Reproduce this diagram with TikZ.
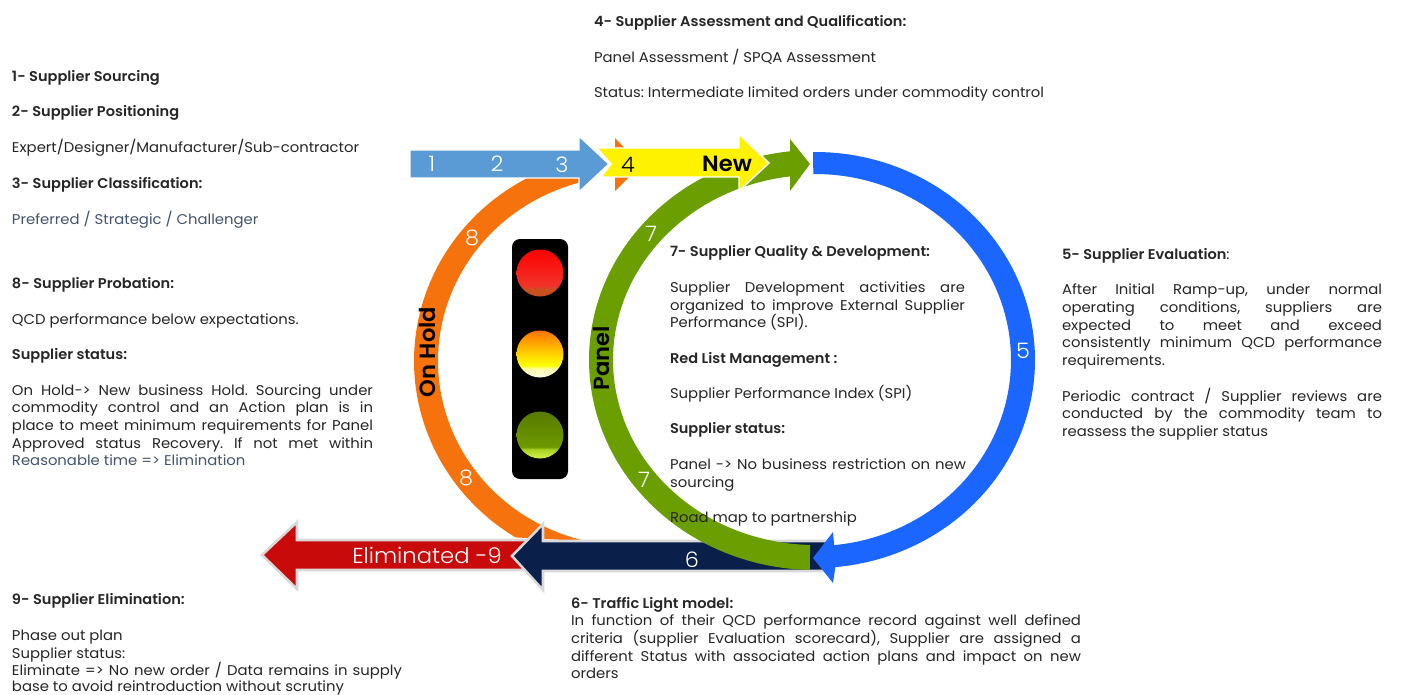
\documentclass[tikz,border=0pt]{standalone}
\usepackage{fontspec}
\setmainfont{Poppins}[FakeStretch=1.05,BoldFont={Poppins SemiBold},BoldFeatures={FakeStretch=1.03}]
\newfontfamily\lightf{Poppins Light}[FakeStretch=1.05]
\frenchspacing
\usetikzlibrary{calc}
\definecolor{txt}{HTML}{262626}
\definecolor{slate}{HTML}{44546A}
\definecolor{bluea}{HTML}{5B9BD5}
\definecolor{orangea}{HTML}{F6720C}
\definecolor{greena}{HTML}{6B9E00}
\definecolor{bluer}{HTML}{1A66FF}
\definecolor{navya}{HTML}{0B1F4B}
\definecolor{reda}{HTML}{C80A0A}
\definecolor{greyline}{HTML}{D9D9D9}
\definecolor{lgA}{HTML}{D2F24A}
\definecolor{lgB}{HTML}{A8D020}
\definecolor{lgC}{HTML}{6E9A00}
\definecolor{lgD}{HTML}{587A00}
\definecolor{lrA}{HTML}{C8501E}
\definecolor{lrB}{HTML}{F0342A}
\pgfdeclareverticalshading{lampred}{100bp}{color(0bp)=(lrA);color(25bp)=(lrA);color(33bp)=(lrA);color(36bp)=(lrB);color(75bp)=(red);color(100bp)=(red)}
\pgfdeclareverticalshading{lampamber}{100bp}{color(0bp)=(white);color(25bp)=(yellow!10!white);color(34bp)=(yellow!30!white);color(38bp)=(yellow);color(75bp)=(orange!90!red);color(100bp)=(orange!90!red)}
\pgfdeclareverticalshading{lampgreen}{100bp}{color(0bp)=(lgA);color(25bp)=(lgA);color(35bp)=(lgB);color(37bp)=(lgC);color(75bp)=(lgD);color(100bp)=(lgD)}
\newcommand{\tl}[4]{\node[lbl] (#1) at (#2,#3) {#4};}
\newcommand{\jl}[5]{\node[lbl] (#1) at (#2,#3) {\makebox[\dimexpr #4pt*3/4\relax][s]{#5}};}
\tikzset{
 x=0.75pt,y=-0.75pt,
 lbl/.style={anchor=base west,inner sep=0pt,outer sep=0pt,text=txt,font=\fontsize{10.6pt}{12pt}\selectfont},
 num/.style={anchor=center,inner sep=0pt,text=white,font=\lightf\fontsize{16pt}{18pt}\selectfont},
 lab/.style={anchor=center,inner sep=0pt,text=black,font=\fontsize{16.5pt}{18pt}\selectfont\bfseries},
 band/.style={fill=#1,draw=none},
 arrowbox/.style={fill=#1,draw=white,line width=1.1pt,line join=miter},
 greyarrow/.style={fill=#1,draw=greyline,line width=1.9pt,line join=miter}
}
\begin{document}
\begin{tikzpicture}
\useasboundingbox (0,0) rectangle (1401,695);
\fill[white] (0,0) rectangle (1401,695);
% orange ring with hidden head
\fill[band=orangea] (615,138) -- (641,165) -- (615,191) -- cycle;
\fill[band=orangea] plot[domain=122:259,samples=90] ({630+216*cos(\x)},{361+208*sin(\x)}) -- plot[domain=258:103,samples=90] ({630+192*cos(\x)},{361+185*sin(\x)}) -- cycle;
% light blue arrow
\draw[arrowbox=bluea] (410,150) -- (579,150) -- (579,136) -- (609,164) -- (579,192) -- (579,178) -- (410,178) -- cycle;
% eliminated arrow
\draw[greyarrow=reda] (543,540) -- (297,540) -- (297,522) -- (262,555) -- (297,589) -- (297,570) -- (543,570) -- cycle;
% navy arrow
\draw[greyarrow=navya] (832,541) -- (543,541) -- (543,524) -- (512,556) -- (543,590) -- (543,571) -- (832,571) -- cycle;
% green arrow
\fill[band=greena] plot[domain=91.3:263.65,samples=120] ({815+226*cos(\x)},{360+210*sin(\x)}) -- (790,139) -- (810,164) -- (790,191) -- plot[domain=262.9:91.4,samples=120] ({815+202*cos(\x)},{360+185*sin(\x)}) -- cycle;
% yellow arrow
\draw[arrowbox=yellow] (597,148) -- (739,148) -- (739,134) -- (769,163) -- (739,191) -- (739,177) -- (601,177) -- (611,164) -- cycle;
% blue ring
\fill[band=bluer] plot[domain=269.5:444.7,samples=120] ({815+220*cos(\x)},{360+208*sin(\x)}) -- (833,583) -- (813,558) -- (833,532) -- plot[domain=444.4:269.5,samples=120] ({815+196*cos(\x)},{360+186*sin(\x)}) -- cycle;
% traffic light
\fill[black,rounded corners=6pt] (512,239) rectangle (568,479);
\shade[shading=lampred] (540,273) circle[radius=23.5];
\shade[shading=lampamber] (540,354) circle[radius=23.5];
\shade[shading=lampgreen] (540,435) circle[radius=23.5];
% labels on arrows
\node[num] (n1) at (432,164) {1};
\node[num] (n2) at (497,164) {2};
\node[num] (n3) at (562,165) {3};
\node[num,text=black] (n4) at (628,165) {4};
\node[lab] (nnew) at (727,164) {New};
\node[num] (n8a) at (472,238) {8};
\node[num] (n8b) at (466,478) {8};
\node[num] (n7a) at (651,234) {7};
\node[num] (n7b) at (644,480) {7};
\node[num] (n5) at (1023,351) {5};
\node[num] (n6) at (692,560) {6};
\node[num,font=\lightf\fontsize{16.2pt}{18pt}\selectfont] (nelim) at (427,555) {Eliminated -9};
\node[lab,rotate=90] (nhold) at (427,352) {On Hold};
\node[lab,rotate=90] (npanel) at (601,358) {Panel};
% block 4
\tl{a1}{594}{27}{\bfseries 4- Supplier Assessment and Qualification:}
\tl{a2}{594}{63}{Panel Assessment / SPQA Assessment}
\tl{a3}{594}{98}{Status: Intermediate limited orders under commodity control}
% block 1-3
\tl{b1}{12}{82}{\bfseries 1- Supplier Sourcing}
\tl{b2}{12}{117}{\bfseries 2- Supplier Positioning}
\tl{b3}{12}{153}{Expert/Designer/Manufacturer/Sub-contractor}
\tl{b4}{12}{189}{\bfseries 3- Supplier Classification:}
\node[lbl,text=slate] (b5) at (12,224) {Preferred / Strategic / Challenger};
% block 8
\tl{c1}{12}{288}{\bfseries 8- Supplier Probation:}
\tl{c2}{12}{324}{QCD performance below expectations.}
\tl{c3}{12}{359}{\bfseries Supplier status:}
\jl{c4}{12}{395}{361}{On Hold-> New business Hold. Sourcing under}
\jl{c5}{12}{412}{361}{commodity control and an Action plan is in}
\jl{c6}{12}{430}{361}{place to meet minimum requirements for Panel}
\jl{c7}{12}{448}{361}{Approved status Recovery. If not met within}
\node[lbl,text=slate] (c8) at (12,465) {Reasonable time => Elimination};
% block 9
\tl{d1}{12}{604}{\bfseries 9- Supplier Elimination:}
\tl{d2}{12}{640}{Phase out plan}
\tl{d3}{12}{658}{Supplier status:}
\jl{d4}{12}{675}{390}{Eliminate => No new order / Data remains in supply}
\tl{d5}{12}{691}{base to avoid reintroduction without scrutiny}
% block 6
\tl{e1}{571}{608}{\bfseries 6- Traffic Light model:}
\jl{e2}{571}{625}{510}{In function of their QCD performance record against well defined}
\jl{e3}{571}{643}{510}{criteria (supplier Evaluation scorecard), Supplier are assigned a}
\jl{e4}{571}{661}{510}{different Status with associated action plans and impact on new}
\tl{e5}{571}{678}{orders}
% block 7
\tl{f1}{670}{256}{\bfseries 7- Supplier Quality \& Development:}
\jl{f2}{670}{292}{295}{Supplier Development activities are}
\jl{f3}{670}{310}{295}{organized to improve External Supplier}
\tl{f4}{670}{327}{Performance (SPI).}
\tl{f5}{670}{363}{\bfseries Red List Management :}
\tl{f6}{670}{398}{Supplier Performance Index (SPI)}
\tl{f7}{670}{433}{\bfseries Supplier status:}
\jl{f8}{670}{469}{296}{Panel -> No business restriction on new}
\tl{f9}{670}{487}{sourcing}
\tl{f10}{670}{522}{Road map to partnership}
% block 5
\tl{g1}{1062}{259}{\textbf{5- Supplier Evaluation}:}
\jl{g2}{1062}{294}{320}{After Initial Ramp-up, under normal}
\jl{g3}{1062}{312}{320}{operating conditions, suppliers are}
\jl{g4}{1062}{330}{320}{expected to meet and exceed}
\jl{g5}{1062}{347}{320}{consistently minimum QCD performance}
\tl{g6}{1062}{365}{requirements.}
\jl{g7}{1062}{401}{320}{Periodic contract / Supplier reviews are}
\jl{g8}{1062}{418}{320}{conducted by the commodity team to}
\tl{g9}{1062}{436}{reassess the supplier status}
\end{tikzpicture}
\end{document}
